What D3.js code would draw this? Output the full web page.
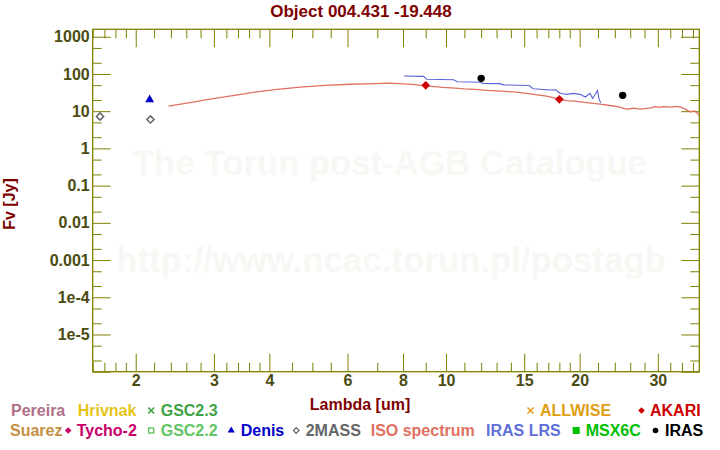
<!DOCTYPE html>
<html><head><meta charset="utf-8">
<script src="https://cdn.jsdelivr.net/npm/d3@7"></script>
<style>body{margin:0;background:#fff}text{font-family:"Liberation Sans",Arial,sans-serif;font-weight:bold}</style>
</head><body><svg id="c" width="720" height="450"></svg>
<script>
// ---- data ----
const isoSpectrum = [[2.37,13.7],[2.65,17.0],[2.94,21.1],[3.31,26.3],[3.71,32.6],[4.12,38.1],[4.69,44.4],[5.34,49.4],[6.07,52.9],[6.92,54.8],[7.4,56.5],[7.87,55.0],[8.37,52.5],[9.0,48],[9.84,43.6],[10.5,41.5],[11.0,39.5],[11.6,38.5],[12.35,36],[13.0,35],[13.5,34],[14.2,33],[14.68,31.5],[15.5,29],[16.2,27],[16.86,25.5],[17.6,22.5],[18.2,20.5],[18.7,19.3],[19.5,18.6],[20.3,17.6],[21.47,16.2],[22.5,15.3],[23.6,14],[24.5,13],[25.5,11.4],[26.5,12.0],[27.3,11.4],[28.3,11.9],[29.0,12.3],[29.5,13.3],[30.2,12.6],[30.9,13.3],[32,12.8],[33,13.4],[33.7,12.9],[34.5,11.5],[35.0,10.5],[35.5,9.6],[36.3,10.2],[37.2,7.9]];
const irasLrs = [[8.04,87.8],[8.9,86],[9.05,72],[10.4,70],[10.6,62],[11.95,60],[12.1,56],[13.2,55],[13.5,51],[15.4,49],[15.7,40],[17.2,37],[17.7,37.5],[18.0,31],[18.2,30],[18.7,28.3],[19.35,30.1],[20.04,28.3],[20.6,24],[21.1,30],[21.4,22],[21.67,28],[21.93,36],[22.1,22],[22.3,16.8]];
const twoMass = [[1.662,7.2],[2.159,6.0]];
const denis = [[2.15,20.5]];
const akari = [[9.0,49.4],[18.0,20.8]];
const iras = [[12.0,76.2],[25.0,26.6]];
const xMajor = [2,3,4,6,8,10,15,20,30];
const xMinor = [1.6,1.7,1.8,1.9,2.2,2.4,2.6,2.8,3.2,3.4,3.6,3.8,4.5,5,5.5,7,9,11,12,13,14,16,17,18,19,22,24,26,28,32,34,36];
const yMajor = [1e-6,1e-5,1e-4,1e-3,0.01,0.1,1,10,100,1000];
const yLabels = ["","1e-5","1e-4","0.001","0.01","0.1","1","10","100","1000"];
const yMinor = [2e-6,5e-6,2e-5,5e-5,2e-4,5e-4,0.002,0.005,0.02,0.05,0.2,0.5,2,5,20,50,200,500];
const legendRow1 = [["Pereira","#b07088","",11],["Hrivnak","#e6c417","",77.7],["GSC2.3","#3ea143","x",160.7],["ALLWISE","#e09e12","x",540],["AKARI","#cc0000","diamond",650]];
const legendRow2 = [["Suarez","#c58f45","",10],["Tycho-2","#c8006a","diamond",76.7],["GSC2.2","#62c462","square",160.7],["Denis","#0000c8","triangle",240.7],["2MASS","#666666","odiamond",305.7],["ISO spectrum","#e07060","",370.7],["IRAS LRS","#6070d8","",486],["MSX6C","#00c000","fsquare",585.7],["IRAS","#000000","circle",665]];

// ---- chart ----
const svg = d3.select("#c");
const L=92.7,R=699.3,T=29.3,B=371.7;
const x = d3.scaleLog().domain([1.6,37.2]).range([L,R]);
const y = d3.scaleLog().domain([1e-6,Math.pow(10,3.2)]).range([B,T]);
const olive="#808000", tickTxt="#4b4b12";

// watermark
svg.append("text").attr("x",390).attr("y",175).attr("text-anchor","middle").attr("font-size",34.6).attr("fill","#f7f7f3").text("The Torun post-AGB Catalogue");
svg.append("text").attr("x",391).attr("y",272).attr("text-anchor","middle").attr("font-size",34.8).attr("fill","#f7f7f3").text("http://www.ncac.torun.pl/postagb");

function styleAxis(g){g.select(".domain").remove();g.selectAll("line").attr("stroke",olive);g.selectAll("text").attr("fill",tickTxt).attr("font-size",16).attr("font-family","Liberation Sans, Arial, sans-serif").attr("font-weight","bold");}
svg.append("g").attr("transform",`translate(0,${B})`).call(d3.axisBottom(x).tickValues(xMajor).tickSize(-18).tickPadding(3).tickFormat(d3.format("d"))).call(styleAxis);
svg.append("g").attr("transform",`translate(0,${B})`).call(d3.axisBottom(x).tickValues(xMinor).tickSize(-9).tickFormat("")).call(styleAxis);
svg.append("g").attr("transform",`translate(0,${T})`).call(d3.axisTop(x).tickValues(xMajor).tickSize(-18).tickFormat("")).call(styleAxis);
svg.append("g").attr("transform",`translate(0,${T})`).call(d3.axisTop(x).tickValues(xMinor).tickSize(-9).tickFormat("")).call(styleAxis);
svg.append("g").attr("transform",`translate(${L},0)`).call(d3.axisLeft(y).tickValues(yMajor).tickSize(-18).tickPadding(3).tickFormat((d,i)=>yLabels[i])).call(styleAxis);
svg.append("g").attr("transform",`translate(${L},0)`).call(d3.axisLeft(y).tickValues(yMinor).tickSize(-9).tickFormat("")).call(styleAxis);
svg.append("g").attr("transform",`translate(${R},0)`).call(d3.axisRight(y).tickValues(yMajor).tickSize(-18).tickFormat("")).call(styleAxis);
svg.append("g").attr("transform",`translate(${R},0)`).call(d3.axisRight(y).tickValues(yMinor).tickSize(-9).tickFormat("")).call(styleAxis);
svg.append("rect").attr("x",L).attr("y",T).attr("width",R-L).attr("height",B-T).attr("fill","none").attr("stroke",olive).attr("stroke-width",1.3);

// titles
svg.append("text").attr("x",361).attr("y",17).attr("text-anchor","middle").attr("font-size",17).attr("fill","#800000").text("Object 004.431 -19.448");
svg.append("text").attr("x",360).attr("y",410).attr("text-anchor","middle").attr("font-size",16).attr("fill","#800000").text("Lambda [um]");
svg.append("text").attr("transform","translate(15,204) rotate(-90)").attr("text-anchor","middle").attr("font-size",16).attr("fill","#800000").text("Fv [Jy]");

// lines
const g = svg.append("g");
const lineGen = d3.line().x(d=>x(d[0])).y(d=>y(d[1]));
g.append("path").datum(isoSpectrum).attr("d",lineGen).attr("fill","none").attr("stroke","#e07060").attr("stroke-width",1.3);
g.append("path").datum(irasLrs).attr("d",lineGen).attr("fill","none").attr("stroke","#5a64d6").attr("stroke-width",1.1);

// markers
const sym = (type,size)=>d3.symbol().type(type).size(size)();
g.selectAll(".tm").data(twoMass).join("path").attr("transform",d=>`translate(${x(d[0])},${y(d[1])}) rotate(45)`).attr("d",sym(d3.symbolSquare,26)).attr("fill","none").attr("stroke","#666").attr("stroke-width",1.5);
g.selectAll(".dn").data(denis).join("path").attr("transform",d=>`translate(${x(d[0])},${y(d[1])})`).attr("d",sym(d3.symbolTriangle,34)).attr("fill","#0000c8");
g.selectAll(".ak").data(akari).join("path").attr("transform",d=>`translate(${x(d[0])},${y(d[1])}) rotate(45)`).attr("d",sym(d3.symbolSquare,38)).attr("fill","#cc0000");
g.selectAll(".ir").data(iras).join("circle").attr("cx",d=>x(d[0])).attr("cy",d=>y(d[1])).attr("r",3.7).attr("fill","#000");

// legend
function legendRow(items,yb){
  items.forEach(([name,col,s,tx])=>{
    const cy=yb-5.5, cx=tx-9.5;
    if(s==="x"){svg.append("path").attr("d",`M${cx-3},${cy-3}L${cx+3},${cy+3}M${cx-3},${cy+3}L${cx+3},${cy-3}`).attr("stroke",col).attr("stroke-width",1.6);}
    else if(s==="diamond"){svg.append("path").attr("transform",`translate(${cx+1},${cy}) rotate(45)`).attr("d",sym(d3.symbolSquare,22)).attr("fill",col);}
    else if(s==="odiamond"){svg.append("path").attr("transform",`translate(${cx},${cy}) rotate(45)`).attr("d",sym(d3.symbolSquare,16)).attr("fill","none").attr("stroke",col).attr("stroke-width",1.2);}
    else if(s==="square"){svg.append("rect").attr("x",cx-2.5).attr("y",cy-2.5).attr("width",5).attr("height",5).attr("fill","none").attr("stroke",col).attr("stroke-width",1.4);}
    else if(s==="fsquare"){svg.append("rect").attr("x",cx-3.5).attr("y",cy-3.5).attr("width",7).attr("height",7).attr("fill",col);}
    else if(s==="triangle"){svg.append("path").attr("transform",`translate(${cx},${cy})`).attr("d",sym(d3.symbolTriangle,22)).attr("fill",col);}
    else if(s==="circle"){svg.append("circle").attr("cx",cx).attr("cy",cy).attr("r",2.8).attr("fill",col);}
    svg.append("text").attr("x",tx).attr("y",yb).attr("font-size",16).attr("fill",col).text(name);
  });
}
legendRow(legendRow1,416);
legendRow(legendRow2,436);
</script></body></html>
